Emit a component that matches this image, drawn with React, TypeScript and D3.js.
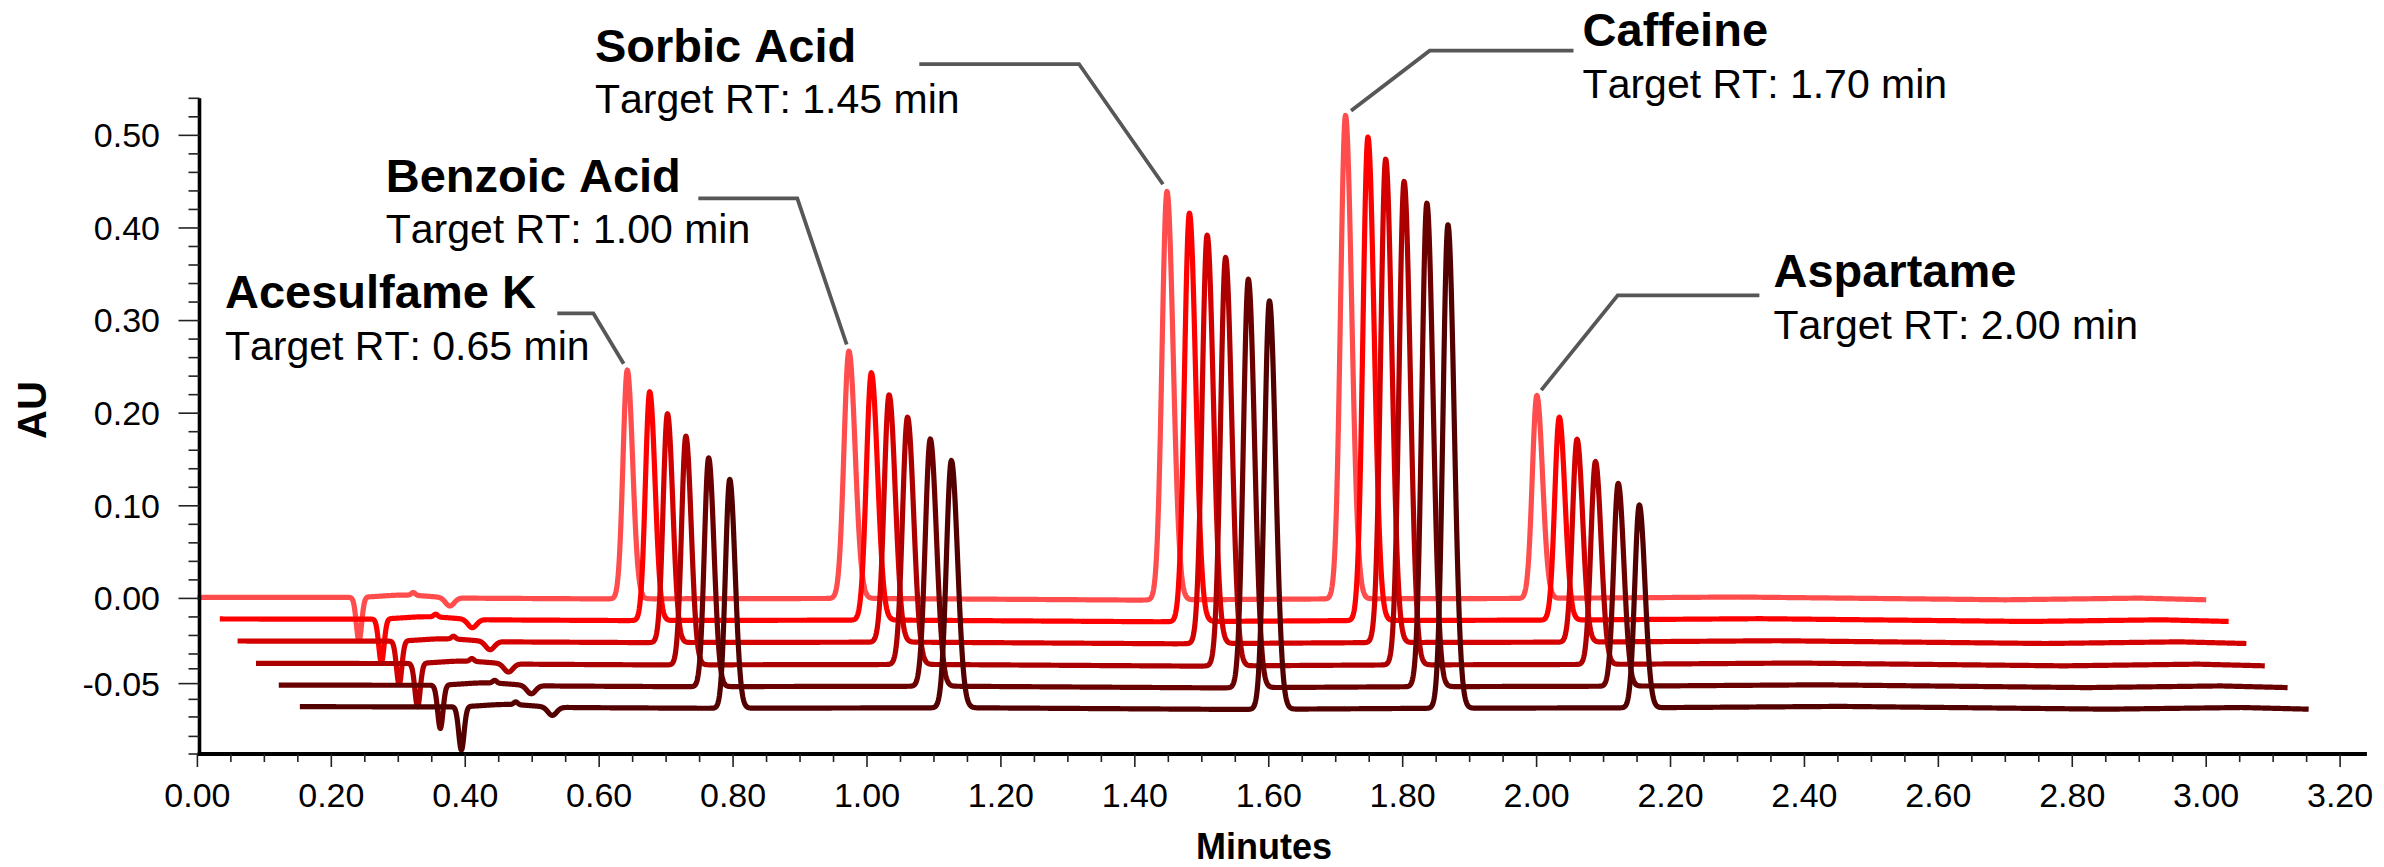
import React, { useMemo } from 'react';
import * as d3 from 'd3';

const WIDTH = 2384;
const HEIGHT = 867;
const FONT = "'Liberation Sans', Arial, Helvetica, sans-serif";

// ---- Compounds (peak table of the first injection) ----
const COMPOUNDS = ['Acesulfame K', 'Benzoic Acid', 'Sorbic Acid', 'Caffeine', 'Aspartame'];
const TARGET_RT_LABELS = [
  'Target RT: 0.65 min',
  'Target RT: 1.00 min',
  'Target RT: 1.45 min',
  'Target RT: 1.70 min',
  'Target RT: 2.00 min',
];
const PEAK_RT = [0.642, 0.973, 1.448, 1.7146, 2.0004];
const PEAK_HEIGHT = [0.247, 0.267, 0.441, 0.522, 0.219];
const PEAK_SIGMA = [0.0064, 0.0074, 0.0074, 0.0074, 0.0068];

// ---- System disturbances near the void ----
const DIST_RT = [0.2413, 0.31, 0.3225, 0.377];
const DIST_AMP = [-0.047, 0.003, 0.003, -0.009];
const DIST_SIGMA = [0.004, 0.035, 0.003, 0.0065];

// ---- Baseline drift knots (minutes, AU) ----
const DRIFT_T = [0, 0.2, 0.6, 1.0, 1.4, 1.7, 2.0, 2.3, 2.5, 2.7, 2.9, 3.0];
const DRIFT_Y = [0.0012, 0.001, -0.0005, 0.0, -0.0018, -0.0005, 0.0, 0.0015, 0.0, -0.0015, 0.0003, -0.0015];

// ---- Stacked injections ----
const TRACE_X_OFFSET = [0, 0.0335, 0.06, 0.0875, 0.1215, 0.153];
const TRACE_Y_OFFSET = [0, -0.0234, -0.0472, -0.0713, -0.0948, -0.1181];
const RUN_LENGTH = 3.0;
const TRACE_COLORS = ['#FF4D4D', '#FF0000', '#D40000', '#AC0000', '#6B0000', '#520000'];

// ---- Axes ----
const X_MAJOR = [0, 0.2, 0.4, 0.6, 0.8, 1.0, 1.2, 1.4, 1.6, 1.8, 2.0, 2.2, 2.4, 2.6, 2.8, 3.0, 3.2];
const X_LABELS = ['0.00', '0.20', '0.40', '0.60', '0.80', '1.00', '1.20', '1.40', '1.60', '1.80', '2.00', '2.20', '2.40', '2.60', '2.80', '3.00', '3.20'];
const Y_MAJOR = [0.5, 0.4, 0.3, 0.2, 0.1, 0.0, -0.092];
const Y_LABELS = ['0.50', '0.40', '0.30', '0.20', '0.10', '0.00', '-0.05'];
const Y_MINOR = [0.54, 0.52, 0.48, 0.46, 0.44, 0.42, 0.38, 0.36, 0.34, 0.32, 0.28, 0.26, 0.24, 0.22, 0.18, 0.16, 0.14, 0.12, 0.08, 0.06, 0.04, 0.02,
  -0.02, -0.04, -0.06, -0.076, -0.109, -0.128, -0.149, -0.168];
const X_TITLE = 'Minutes';
const Y_TITLE = 'AU';

// ---- Annotation anchors (minutes, AU) ----
const ANNOT_LABEL_X = [0.0412, 0.2812, 0.5938, 2.0687, 2.3537];
const ANNOT_LABEL_Y = [0.3132, 0.4391, 0.5795, 0.5964, 0.3359];
const ANNOT_ELBOW_X = [0.5913, 0.8959, 1.3166, 1.8403, 2.1211];
const ANNOT_ELBOW_Y = [0.3078, 0.432, 0.577, 0.5914, 0.3272];
const ANNOT_HEND_X = [0.5375, 0.7481, 1.0781, 2.0551, 2.3327];

function signal(t: number, drift: (v: number) => number): number {
  let v = drift(t);
  for (let i = 0; i < DIST_RT.length; i++) {
    const d = t - DIST_RT[i];
    const s = DIST_SIGMA[i];
    if (Math.abs(d) < 8 * s) v += DIST_AMP[i] * Math.exp(-0.5 * (d / s) * (d / s));
  }
  for (let i = 0; i < PEAK_RT.length; i++) {
    const d = t - PEAK_RT[i];
    const s = d < 0 ? PEAK_SIGMA[i] : PEAK_SIGMA[i] * 1.25;
    if (Math.abs(d) < 9 * s) v += PEAK_HEIGHT[i] * Math.exp(-0.5 * (d / s) * (d / s));
  }
  return v;
}

export default function App() {
  const x = d3.scaleLinear().domain([0, 3.24]).range([197.4, 197.4 + 3.24 * 669.6]);
  const y = d3.scaleLinear().domain([-0.168, 0.54]).range([754, 98.3]);

  const paths = useMemo(() => {
    const drift = d3.scaleLinear<number>().domain(DRIFT_T).range(DRIFT_Y).clamp(true);
    const line = d3
      .line<[number, number]>()
      .x((d) => x(d[0]))
      .y((d) => y(d[1]));
    const ts = d3.range(0, RUN_LENGTH + 1e-9, 0.0005);
    return TRACE_X_OFFSET.map((xo, k) => {
      const pts: [number, number][] = ts.map((t) => [t + xo, signal(t, drift) + TRACE_Y_OFFSET[k]]);
      return line(pts) || '';
    });
  }, []);

  const xMinor = d3.range(0, 3.2001, 0.05).filter((v) => Math.abs(v * 5 - Math.round(v * 5)) > 1e-6);
  const axisLeft = 199.5;
  const axisBottom = 754;

  const leaderGap = 7;

  return (
    <svg
      width={WIDTH}
      height={HEIGHT}
      style={{ position: 'absolute', left: 0, top: 0, background: '#fff', fontKerning: 'none' }}
      fontFamily={FONT}
    >
      <rect x={0} y={0} width={WIDTH} height={HEIGHT} fill="#fff" />

      {/* traces */}
      {paths.map((p, i) => (
        <path key={i} d={p} fill="none" stroke={TRACE_COLORS[i]} strokeWidth={5.2} strokeLinejoin="round" strokeLinecap="butt" />
      ))}

      {/* Y axis */}
      <line x1={axisLeft} x2={axisLeft} y1={y(0.54)} y2={axisBottom + 1.5} stroke="#000" strokeWidth={3.6} />
      {Y_MINOR.map((v, i) => (
        <line key={'ym' + i} x1={axisLeft - 11} x2={axisLeft} y1={y(v)} y2={y(v)} stroke="#222" strokeWidth={1.6} />
      ))}
      {Y_MAJOR.map((v, i) => (
        <g key={'yM' + i}>
          <line x1={axisLeft - 21} x2={axisLeft} y1={y(v)} y2={y(v)} stroke="#222" strokeWidth={1.6} />
          <text x={160} y={y(v)} dy="0.35em" textAnchor="end" fontSize={34} fill="#000">
            {Y_LABELS[i]}
          </text>
        </g>
      ))}

      {/* X axis */}
      <line x1={axisLeft - 1.8} x2={x(3.24)} y1={axisBottom} y2={axisBottom} stroke="#000" strokeWidth={3.8} />
      {xMinor.map((v, i) => (
        <line key={'xm' + i} x1={x(v)} x2={x(v)} y1={axisBottom} y2={axisBottom + 8} stroke="#222" strokeWidth={1.6} />
      ))}
      {X_MAJOR.map((v, i) => (
        <g key={'xM' + i}>
          <line x1={x(v)} x2={x(v)} y1={axisBottom} y2={axisBottom + 13} stroke="#222" strokeWidth={1.6} />
          <text x={x(v)} y={807} textAnchor="middle" fontSize={34} fill="#000">
            {X_LABELS[i]}
          </text>
        </g>
      ))}

      {/* axis titles */}
      <text x={1264} y={859} textAnchor="middle" fontSize={36} fontWeight="bold" fill="#000">
        {X_TITLE}
      </text>
      <text
        transform={`translate(32,410) rotate(-90)`}
        textAnchor="middle"
        dy="0.35em"
        fontSize={40}
        fontWeight="bold"
        fill="#000"
      >
        {Y_TITLE}
      </text>

      {/* annotations */}
      {COMPOUNDS.map((name, i) => {
        const px = x(PEAK_RT[i]);
        const py = y(PEAK_HEIGHT[i]);
        const ex = x(ANNOT_ELBOW_X[i]);
        const ey = y(ANNOT_ELBOW_Y[i]);
        const dx = px - ex;
        const dy = py - ey;
        const len = Math.sqrt(dx * dx + dy * dy);
        const endX = px - (dx / len) * leaderGap;
        const endY = py - (dy / len) * leaderGap;
        const lx = x(ANNOT_LABEL_X[i]);
        const ly = y(ANNOT_LABEL_Y[i]);
        return (
          <g key={'a' + i}>
            <polyline
              points={`${x(ANNOT_HEND_X[i])},${ey} ${ex},${ey} ${endX},${endY}`}
              fill="none"
              stroke="#575757"
              strokeWidth={3.8}
              strokeLinejoin="miter"
            />
            <text x={lx} y={ly} fontSize={47} fontWeight="bold" fill="#000">
              {name}
            </text>
            <text x={lx} y={ly + 51.5} fontSize={41} fill="#000">
              {TARGET_RT_LABELS[i]}
            </text>
          </g>
        );
      })}
    </svg>
  );
}
